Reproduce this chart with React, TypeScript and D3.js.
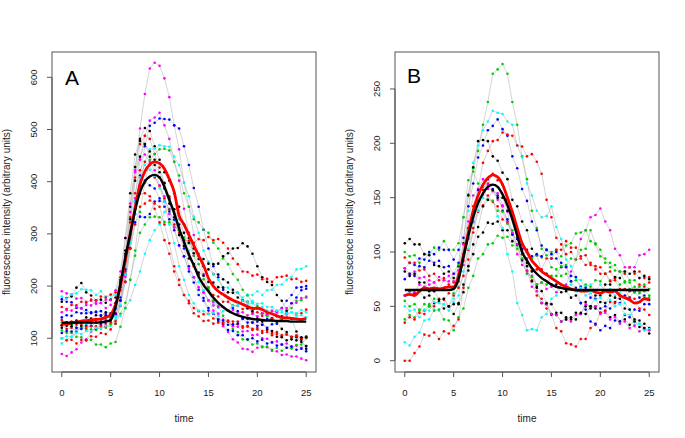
import React from "react";
import * as d3 from "d3";

const times: number[] = d3.range(0, 25.25, 0.5);
const xTicks = [0, 5, 10, 15, 20, 25];
const yTicksA = [100, 200, 300, 400, 500, 600];
const yTicksB = [0, 50, 100, 150, 200, 250];

// Panel A individual traces
const a1 = [190,186,184,176,177,170,172,166,167,158, 164,168,202,258,342,418,502,568,617,628, 622,598,562,508,462,398,352,298,262,223, 192,163,147,123,112,98,92,80,79,74, 82,84,83,76,75,68,69,65,65,61, 58];
const a2 = [175,170,169,158,157,148,150,151,152,143, 141,147,172,208,272,338,412,468,507,513, 521,520,519,508,502,468,432,388,352,308, 272,238,217,193,177,158,152,138,137,130, 132,126,137,138,152,158,172,183,197,198, 200];
const a3 = [70,66,73,79,92,98,112,118,127,128, 137,143,172,218,292,368,442,488,517,523, 532,508,482,438,402,348,302,258,222,188, 172,153,147,136,132,123,122,113,114,106, 107,100,99,93,94,88,90,84,86,82, 85];
const a4 = [170,177,180,197,206,188,182,173,174,168, 174,178,212,268,352,428,482,503,497,468, 442,418,402,378,352,318,292,263,252,238, 232,223,222,213,207,193,187,173,170,158, 157,148,147,138,132,118,112,103,102,93, 85];
const a5 = [125,118,120,113,120,118,124,123,130,128, 137,148,192,248,332,408,472,488,482,453, 427,398,372,338,312,283,262,238,222,203, 197,183,180,170,170,163,162,156,157,148, 150,143,144,138,142,136,140,138,147,148, 155];
const a6 = [180,176,184,186,194,193,192,183,190,180, 182,183,202,228,282,338,402,438,462,463, 470,468,467,448,432,398,372,333,302,268, 247,223,212,198,197,188,187,178,184,183, 190,183,192,193,202,203,212,218,232,233, 238];
const a7 = [130,126,127,120,122,116,117,116,122,120, 127,128,147,168,212,268,342,398,442,453, 462,463,460,438,412,378,352,328,322,308, 302,283,272,253,242,223,212,193,182,168, 162,148,142,133,132,138,152,158,172,173, 180];
const a8 = [90,97,103,117,118,127,128,130,130,137, 136,142,143,157,173,202,228,262,288,307, 318,342,348,347,328,302,268,242,208,192, 173,167,158,160,153,162,163,172,166,167, 158,160,153,154,148,150,144,150,148,154, 150];
const a9 = [115,110,110,103,102,96,97,88,88,83, 90,93,122,158,212,258,302,318,332,333, 332,323,322,313,307,293,282,258,242,213, 197,173,162,143,132,118,112,98,97,88, 90,83,84,78,82,76,82,80,87,88, 100];
const a10 = [100,96,97,90,97,96,104,103,110,108, 117,128,172,228,302,348,377,378,372,348, 322,288,262,228,202,183,172,158,152,146, 147,138,137,130,132,126,127,120,122,116, 117,110,112,106,108,103,107,102,105,100, 102];
const a11 = [120,124,123,130,124,132,130,137,136,142, 143,162,198,262,328,402,448,472,458,442, 418,397,368,347,318,302,283,272,258,252, 243,242,243,257,263,272,273,282,276,262, 238,217,208,202,183,172,153,137,113,97, 80];
const a12 = [160,156,164,163,170,168,174,173,180,178, 184,188,217,258,322,378,422,438,432,408, 392,368,347,318,302,288,287,283,290,288, 294,288,290,283,272,253,242,228,227,220, 222,213,214,208,217,218,220,213,214,208, 210];
const a13 = [110,114,113,120,118,124,123,130,128,134, 133,147,173,222,273,322,333,332,338,362, 363,362,343,327,298,272,238,217,193,177, 158,147,133,127,116,114,106,106,98,100, 94,97,90,92,86,88,82,84,78,80, 75];
const a14 = [150,154,153,160,158,164,163,170,168,174, 173,192,228,292,358,422,443,452,438,422, 393,372,338,312,278,257,233,217,198,187, 173,170,160,160,153,154,148,150,144,147, 142,148,146,152,150,157,158,167,168,177, 178];
const a15 = [135,130,132,126,128,122,124,118,124,123, 130,133,162,208,272,318,352,358,364,358, 352,318,282,238,212,183,167,148,142,133, 134,128,130,128,134,132,132,123,124,118, 120,114,116,110,112,106,108,102,105,100, 104];
const a16 = [125,130,128,134,133,140,138,144,143,150, 148,167,208,292,378,452,478,472,448,432, 408,387,358,332,298,277,253,242,226,220, 208,207,198,197,188,187,178,172,158,152, 138,132,118,114,103,102,96,98,96,102, 102];
const a17 = [140,144,143,150,148,154,148,150,144,147, 143,157,178,232,298,362,393,402,393,387, 368,352,328,307,278,257,228,207,183,172, 153,147,136,134,126,127,128,137,130,130, 124,126,120,127,128,142,148,167,178,192, 195];
const a18 = [100,104,103,110,108,114,113,120,118,124, 123,137,163,222,288,362,408,432,423,412, 388,362,318,282,238,212,183,167,153,152, 146,148,143,152,153,162,163,172,170,172, 166,167,160,160,153,154,148,150,143,144, 140];
const tracesA = [a1, a2, a3, a4, a5, a6, a7, a8, a9, a10, a11, a12, a13, a14, a15, a16, a17, a18];
const colorsA = ["magenta", "blue", "magenta", "black", "red", "cyan", "#00cd00", "cyan", "#00cd00", "red", "black", "red", "blue", "magenta", "red", "black", "blue", "cyan"];

const fitA = [130,130,130,130,130,130,130,130,131,132, 135,160,205,255,300,345,380,400,410,413, 408,390,365,340,310,285,260,240,218,202, 190,178,168,160,153,148,144,141,139,137, 136,135,134,134,133,133,133,132,132,132, 132];
const meanA = [128,127,130,131,133,134,135,136,137,140, 145,165,200,250,300,350,395,420,433,438, 435,425,405,380,335,318,298,278,258,240, 215,200,190,184,178,173,169,165,161,157, 158,155,150,147,143,140,139,138,137,136, 138];

// Panel B individual traces
const b1 = [100,96,97,90,98,98,104,102,110,102, 102,108,132,153,177,193,217,238,264,268, 273,264,238,217,188,167,138,122,103,97, 86,84,78,80,73,74,68,70,68,74, 73,80,74,76,70,72,66,68,62,64, 60];
const b2 = [17,14,22,26,37,38,47,46,52,50, 57,68,97,138,182,198,212,220,230,228, 227,220,217,198,187,163,152,138,132,133, 142,123,112,93,87,76,74,68,70,64, 70,64,66,60,62,53,47,36,34,28, 28];
const b3 = [85,90,88,94,93,100,98,104,102,102, 93,102,113,142,163,187,198,212,216,222, 213,207,188,177,158,147,128,120,106,102, 94,94,86,86,78,77,68,67,58,57, 48,50,48,54,53,60,58,64,58,60, 56];
const b4 = [95,90,90,83,84,78,80,74,76,70, 72,73,92,113,142,158,182,193,202,203, 210,208,207,198,197,188,190,183,172,148, 132,113,107,98,100,93,94,88,90,84, 86,80,82,76,82,80,86,80,82,76, 77];
const b5 = [108,112,107,107,98,97,88,87,80,82, 76,87,108,152,178,202,203,202,188,184, 173,167,148,142,128,120,103,97,83,80, 70,70,63,64,58,60,53,54,48,50, 44,46,40,42,36,38,33,36,31,34, 30];
const b6 = [0,0,7,13,24,23,26,20,27,25, 32,38,67,93,122,138,157,163,172,166, 162,148,137,113,102,83,74,60,57,48, 42,30,27,16,15,13,20,20,30,33, 44,46,54,53,60,58,64,63,70,68, 72];
const b7 = [85,80,82,76,77,70,72,66,74,73, 80,83,107,128,152,158,167,158,157,148, 142,128,117,98,92,80,78,70,72,66, 68,63,70,70,82,93,112,120,132,134, 140,128,120,103,97,86,86,86,97,98, 102];
const b8 = [38,42,40,47,46,52,46,47,38,37, 28,40,48,67,78,94,98,107,108,115, 113,114,106,106,98,100,94,97,95,102, 100,102,96,106,108,117,118,120,110,107, 96,94,86,88,82,82,74,74,68,70, 66];
const b9 = [60,64,62,64,58,60,53,54,48,50, 43,52,63,87,98,114,118,127,126,128, 120,120,110,107,93,87,73,67,53,52, 43,42,36,40,38,44,43,50,50,60, 60,70,70,77,76,82,80,82,76,78, 75];
const b10 = [35,40,38,44,43,50,50,57,56,62, 60,67,78,102,118,137,143,152,146,142, 130,127,116,112,98,94,83,84,84,94, 94,102,102,110,104,104,96,97,88,87, 80,80,73,74,66,66,58,57,48,47, 42];
const b11 = [75,80,78,87,86,92,90,92,86,87, 80,90,98,122,138,157,160,167,158,152, 138,130,116,112,103,102,96,98,96,102, 98,100,90,87,73,67,53,47,36,34, 28,32,30,37,36,42,40,47,46,52, 52];
const b12 = [50,46,47,40,47,46,54,53,52,46, 54,60,82,103,127,138,150,148,147,133, 122,98,82,53,42,28,29,28,40,43, 57,60,70,68,70,64,67,60,62,56, 58,53,56,50,52,43,42,33,34,28, 29];
const b13 = [60,64,63,70,68,74,72,77,74,78, 73,80,88,112,128,147,153,162,156,154, 143,137,118,107,88,82,68,64,53,52, 43,42,36,38,36,42,43,52,50,50, 43,44,38,40,34,36,30,32,27,30, 28];
const b14 = [55,50,52,46,52,50,57,56,57,50, 62,88,132,166,174,163,160,148,147,138, 137,126,120,103,94,80,77,70,72,70, 78,78,87,88,94,93,102,103,120,108, 102,90,90,83,82,73,72,63,64,58, 58];
const b15 = [82,78,80,72,72,64,64,56,57,50, 52,53,70,83,107,123,142,148,157,150, 150,138,132,116,107,90,82,68,64,53, 52,44,44,38,40,38,44,43,50,48, 54,53,60,58,57,48,47,38,37,30, 25];
const tracesB = [b1, b2, b3, b4, b5, b6, b7, b8, b9, b10, b11, b12, b13, b14, b15];
const colorsB = ["#00cd00", "cyan", "blue", "red", "black", "red", "magenta", "#00cd00", "black", "red", "blue", "cyan", "magenta", "#00cd00", "black"];

const fitB = [65,65,65,65,65,65,65,65,65,65, 66,75,95,115,132,145,154,160,162,160, 153,143,130,115,100,92,85,80,76,73, 70,68,67,66,65.5,65,65,65,65,65, 65,65,65,65,65,65,65,65,65,65, 65];
const meanB = [60,61,60,64,67,66,67,66,67,68, 68,78,97,118,138,152,162,168,171,169, 162,150,137,122,108,100,92,87,82,79, 76,73,70,68,66,65,64,64,65,63, 62,64,63,64,60,58,56,53,54,57, 56];

const W = 685, H = 438;
const font = "'Liberation Sans', Arial, Helvetica, sans-serif";

type PanelProps = {
  left: number; right: number; top: number; bottom: number;
  yDomain: [number, number]; yTicks: number[]; label: string;
  traces: number[][]; colors: string[]; fit: number[]; mean: number[];
  titleX: number; labelX: number; labelY: number;
};

function Panel(p: PanelProps) {
  const x = d3.scaleLinear().domain([-1, 26]).range([p.left, p.right]);
  const y = d3.scaleLinear().domain(p.yDomain).range([p.bottom, p.top]);
  const line = d3.line<number>().x((_, i) => x(times[i])).y((d) => y(d));
  const smooth = d3.line<number>().x((_, i) => x(times[i])).y((d) => y(d)).curve(d3.curveMonotoneX);
  const tick = 5;
  return (
    <g>
      {p.traces.map((tr, k) => (
        <path key={"l" + k} d={line(tr) || ""} fill="none" stroke="#b8b8b8" strokeWidth={0.6} />
      ))}
      {p.traces.map((tr, k) => (
        <g key={"p" + k} fill={p.colors[k]}>
          {tr.map((v, i) => (
            <circle key={i} cx={x(times[i])} cy={y(v)} r={1.3} />
          ))}
        </g>
      ))}
      <path d={smooth(p.mean) || ""} fill="none" stroke="red" strokeWidth={2.8} />
      <path d={smooth(p.fit) || ""} fill="none" stroke="black" strokeWidth={2.4} />
      <rect x={p.left} y={p.top} width={p.right - p.left} height={p.bottom - p.top} fill="none" stroke="#555" strokeWidth={1} />
      <line x1={x(xTicks[0])} x2={x(xTicks[xTicks.length - 1])} y1={p.bottom} y2={p.bottom} stroke="#555" />
      {xTicks.map((t) => (
        <g key={"xt" + t}>
          <line x1={x(t)} x2={x(t)} y1={p.bottom} y2={p.bottom + tick} stroke="#555" />
          <text x={x(t)} y={p.bottom + 23.5} textAnchor="middle" fontSize={9.5} fontFamily={font} fill="#222">{t}</text>
        </g>
      ))}
      <line x1={p.left} x2={p.left} y1={y(p.yTicks[0])} y2={y(p.yTicks[p.yTicks.length - 1])} stroke="#555" />
      {p.yTicks.map((t) => (
        <g key={"yt" + t}>
          <line x1={p.left - tick} x2={p.left} y1={y(t)} y2={y(t)} stroke="#555" />
          <text transform={`translate(${p.left - 15},${y(t)}) rotate(-90)`} textAnchor="middle" fontSize={9.5} fontFamily={font} fill="#222">{t}</text>
        </g>
      ))}
      <text x={(p.left + p.right) / 2} y={p.bottom + 50} textAnchor="middle" fontSize={10} fontFamily={font} fill="#222">time</text>
      <text transform={`translate(${p.titleX},${(p.top + p.bottom) / 2}) rotate(-90)`} textAnchor="middle" fontSize={10} fontFamily={font} fill="#222">fluorescence intensity (arbitrary units)</text>
      <text x={p.labelX} y={p.labelY} fontSize={21} fontFamily={font} fill="black">{p.label}</text>
    </g>
  );
}

export default function App() {
  return (
    <svg width={W} height={H} style={{ position: "absolute", left: 0, top: 0, background: "white" }}>
      <rect width={W} height={H} fill="white" />
      <Panel left={52} right={316} top={52} bottom={372} yDomain={[35.4, 648.5]} yTicks={yTicksA} label="A"
        traces={tracesA} colors={colorsA} fit={fitA} mean={meanA} titleX={10} labelX={65} labelY={85} />
      <Panel left={395} right={659} top={52} bottom={372} yDomain={[-10.4, 284]} yTicks={yTicksB} label="B"
        traces={tracesB} colors={colorsB} fit={fitB} mean={meanB} titleX={353} labelX={407} labelY={83} />
    </svg>
  );
}
